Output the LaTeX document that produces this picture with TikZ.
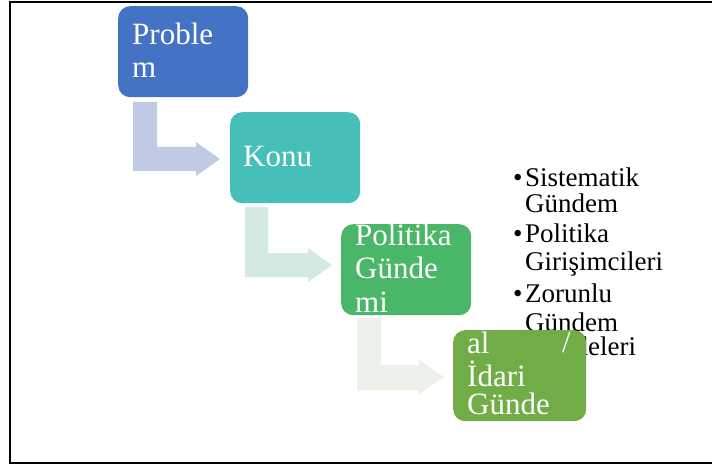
\documentclass[tikz,border=0pt]{standalone}
\usepackage{fontspec}
\setmainfont{Liberation Serif}
\definecolor{cA}{RGB}{68,114,196}
\definecolor{cB}{RGB}{69,191,183}
\definecolor{cC}{RGB}{74,183,104}
\definecolor{cD}{RGB}{112,173,71}
\definecolor{aA}{RGB}{192,202,228}
\definecolor{aB}{RGB}{212,233,226}
\definecolor{aC}{RGB}{236,242,234}
\begin{document}
\begin{tikzpicture}[x=1pt,y=-1pt,
  stagebox/.style={fill=#1, draw=none, rounded corners=12pt, minimum width=130pt, minimum height=91pt, anchor=north west, inner sep=0},
  btxt/.style={anchor=base west, inner sep=0, text=white, font=\fontsize{31}{33}\selectfont},
  ltxt/.style={anchor=base west, inner sep=0, font=\fontsize{27}{27}\selectfont}]
\useasboundingbox (0,0) rectangle (712,465);
% frame
\draw[line width=2.5pt] (712,2) -- (10,2) -- (10,463) -- (712,463);
% bent arrows
\fill[aA] (133,102) -- (157,102) -- (157,147) -- (196,147) -- (196,142) -- (220,159) -- (196,176) -- (196,171) -- (133,171) -- cycle;
\fill[aB] (245,207) -- (268,207) -- (268,253) -- (308,253) -- (308,248) -- (332,265) -- (308,282) -- (308,277) -- (245,277) -- cycle;
\fill[aC] (357,318) -- (381,318) -- (381,365) -- (419,365) -- (419,360) -- (444,377) -- (419,394) -- (419,390) -- (357,390) -- cycle;
% bullet list
\node[ltxt] (u1) at (513,187) {•};
\node[ltxt] (l1) at (525,187) {Sistematik};
\node[ltxt] (l2) at (525,212) {Gündem};
\node[ltxt] (u2) at (513,243) {•};
\node[ltxt] (l3) at (525,243) {Politika};
\node[ltxt] (l4) at (525,270) {Girişimcileri};
\node[ltxt] (u3) at (513,302) {•};
\node[ltxt] (l5) at (525,302) {Zorunlu};
\node[ltxt] (l6) at (525,331) {Gündem};
\node[ltxt] (l7) at (525,355) {Maddeleri};
% boxes
\node[stagebox=cA] (b1) at (118,6) {};
\node[stagebox=cB] (b2) at (230,112) {};
\node[stagebox=cC] (b3) at (341,224) {};
\node[stagebox=cD, minimum width=133pt] (b4) at (453,330) {};
% box texts
\node[btxt] (t1a) at (132,45) {Proble};
\node[btxt] (t1b) at (132,78) {m};
\node[btxt] (t2) at (243,167) {Konu};
\node[btxt] (t3a) at (355,245) {Politika};
\node[btxt] (t3b) at (355,278) {Günde};
\node[btxt] (t3c) at (355,312) {mi};
\node[btxt] (t4a) at (467,353) {al};
\node[btxt] (t4s) at (562,352) {/};
\node[btxt] (t4b) at (467,386) {İdari};
\node[btxt] (t4c) at (467,414) {Günde};
\end{tikzpicture}
\end{document}
